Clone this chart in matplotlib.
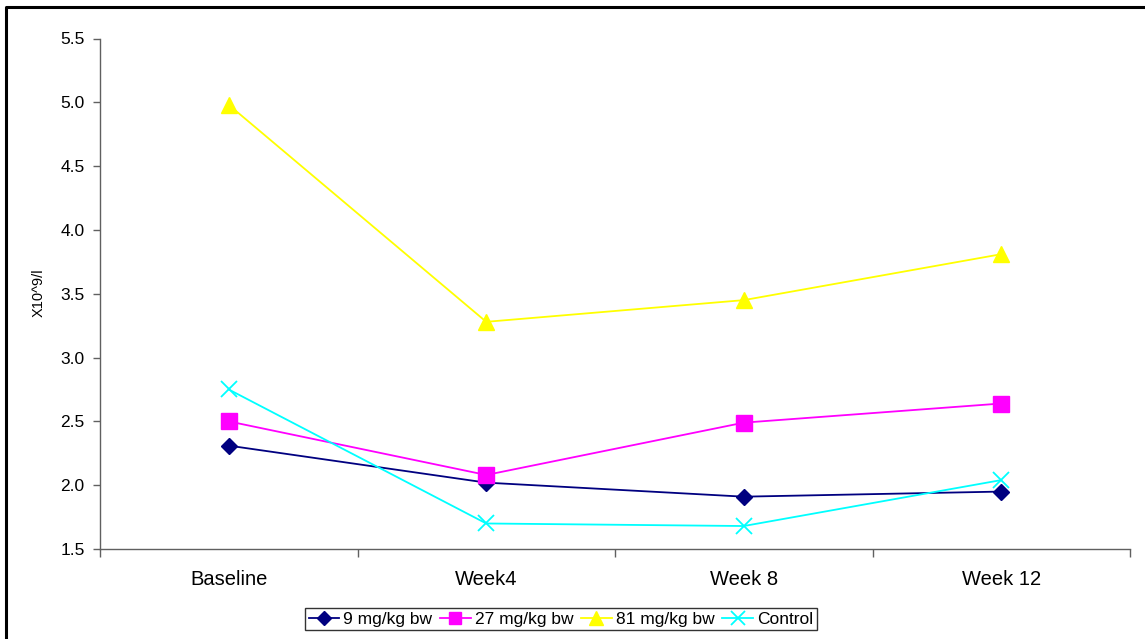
import matplotlib
matplotlib.use("Agg")
import matplotlib.pyplot as plt
from matplotlib.lines import Line2D

plt.rcParams['font.family'] = ['Liberation Sans', 'DejaVu Sans']

categories = ["Baseline", "Week4", "Week 8", "Week 12"]
dose_9 = [2.31, 2.02, 1.91, 1.95]
dose_27 = [2.50, 2.08, 2.49, 2.64]
dose_81 = [4.98, 3.28, 3.45, 3.81]
control = [2.75, 1.70, 1.68, 2.04]
series_labels = ["9 mg/kg bw", "27 mg/kg bw", "81 mg/kg bw", "Control"]
y_ticks = [1.5, 2.0, 2.5, 3.0, 3.5, 4.0, 4.5, 5.0, 5.5]

fig = plt.figure(figsize=(11.45, 6.39), dpi=100)
ax = fig.add_axes([100 / 1145, 1 - 549 / 639, 1030 / 1145, (549 - 38.5) / 639])

x = list(range(len(categories)))
styles = [
    (dose_9, "#000080", "D", 8.0, {}),
    (dose_27, "#FF00FF", "s", 11.5, {}),
    (dose_81, "#FFFF00", "^", 12.0, {}),
    (control, "#00FFFF", "x", 11.5, {"markeredgewidth": 1.3}),
]
for (vals, color, marker, ms, extra), label in zip(styles, series_labels):
    ax.plot(x, vals, color=color, marker=marker, markersize=ms, linewidth=1.3,
            markerfacecolor=color, markeredgecolor=color, label=label, **extra)

ax.set_xlim(-0.5, len(categories) - 0.5)
ax.set_ylim(1.5, 5.5)
ax.set_yticks(y_ticks)
ax.set_yticklabels([f"{v:.1f}" for v in y_ticks])
ax.set_xticks(x)
ax.set_xticklabels(categories)
ax.set_xticks([i + 0.5 for i in range(-1, len(categories))], minor=True)

for side in ("top", "right"):
    ax.spines[side].set_visible(False)
for side in ("left", "bottom"):
    ax.spines[side].set_color("#606060")
    ax.spines[side].set_linewidth(1.0)

ax.tick_params(axis="y", direction="out", length=5, width=1, color="#606060",
               labelsize=12.5, pad=6)
ax.tick_params(axis="x", which="major", length=0, labelsize=14.5, pad=15)
ax.tick_params(axis="x", which="minor", direction="out", length=6, width=1,
               color="#606060")

fig.text(39 / 1145, 1 - 293 / 639, "X10^9/l", rotation=90, ha="center",
         va="center", fontsize=10.5)

leg = ax.legend(loc="center", bbox_to_anchor=(561 / 1145, 1 - 619 / 639),
                bbox_transform=fig.transFigure, ncol=4, frameon=True,
                fancybox=False, edgecolor="black", fontsize=12.5,
                handlelength=1.75, handletextpad=0.25, columnspacing=0.45,
                borderpad=0.2, borderaxespad=0)
leg.get_frame().set_linewidth(1.0)
legend_marker_sizes = {"s": 9, "^": 10, "D": 7, "x": 10}
for h in leg.legend_handles:
    h.set_markersize(legend_marker_sizes.get(h.get_marker(), 8))

# outer chart frame
fig.add_artist(Line2D([6 / 1145, 6 / 1145, 1.01], [-0.01, 1 - 6.5 / 639, 1 - 6.5 / 639],
                      transform=fig.transFigure, color="black", linewidth=2.2))

fig.savefig("out.png", dpi=100, facecolor="white")
